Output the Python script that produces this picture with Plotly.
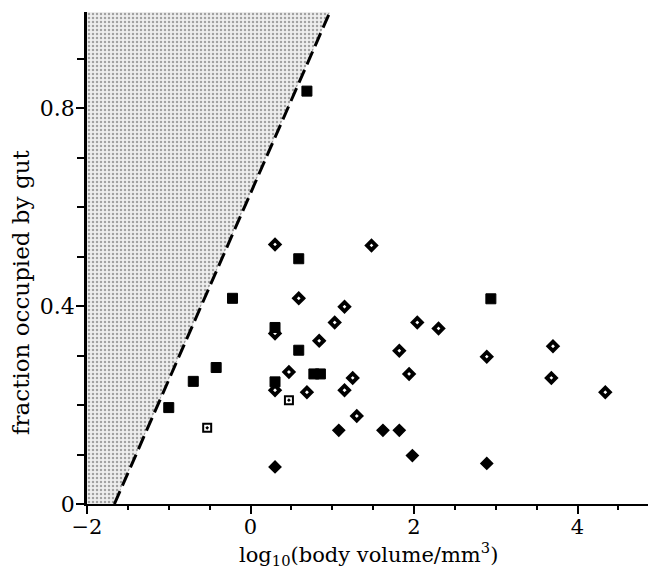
import plotly.graph_objects as go

# ---- data ----
sq_filled_x = [0.69, 0.59, -0.22, 0.30, 0.59, -0.42, -0.70, 0.775, 0.855, 0.30, -1.00, 2.94]
sq_filled_y = [0.835, 0.496, 0.416, 0.357, 0.311, 0.276, 0.248, 0.263, 0.263, 0.247, 0.195, 0.415]

sq_open_x = [-0.53, 0.47]
sq_open_y = [0.154, 0.210]

dia_open_x = [0.30, 1.48, 0.59, 1.15, 1.03, 2.04, 2.30, 0.30, 0.84, 1.82, 0.47,
              1.94, 1.25, 0.30, 0.69, 1.15, 1.30, 2.89, 3.70, 3.68, 4.34]
dia_open_y = [0.525, 0.523, 0.416, 0.399, 0.367, 0.367, 0.355, 0.345, 0.330, 0.310, 0.267,
              0.263, 0.255, 0.230, 0.226, 0.230, 0.178, 0.298, 0.319, 0.255, 0.226]

dia_filled_x = [1.08, 1.62, 1.82, 1.98, 0.30, 2.89]
dia_filled_y = [0.149, 0.149, 0.149, 0.098, 0.075, 0.082]

limit_x = [-1.665, 0.985]
limit_y = [0.0, 1.0]

x_range = [-2, 4.96]
y_range = [0, 0.995]
x_tickvals = [-2, 0, 2, 4]
x_ticktext = ["\u22122", "0", "2", "4"]
y_tickvals = [0, 0.4, 0.8]
y_ticktext = ["0", "0.4", "0.8"]

FONT = "DejaVu Serif"

fig = go.Figure()

# shaded (forbidden) region left of the limit line
fig.add_trace(go.Scatter(
    x=[x_range[0], limit_x[0], limit_x[1], x_range[0]],
    y=[limit_y[0], limit_y[0], limit_y[1], limit_y[1]],
    fill="toself", mode="none",
    fillpattern=dict(shape=".", fgcolor="#555555", bgcolor="#eeeeee", size=4, solidity=0.3),
    hoverinfo="skip", showlegend=False))

# dashed limit line
fig.add_trace(go.Scatter(
    x=limit_x, y=limit_y, mode="lines",
    line=dict(color="black", width=3, dash="14px,6px"),
    showlegend=False))

# open diamonds
fig.add_trace(go.Scatter(
    x=dia_open_x, y=dia_open_y, mode="markers",
    marker=dict(symbol="diamond", size=7, color="white", line=dict(color="black", width=3.8)),
    showlegend=False))

# filled diamonds
fig.add_trace(go.Scatter(
    x=dia_filled_x, y=dia_filled_y, mode="markers",
    marker=dict(symbol="diamond", size=9, color="black", line=dict(color="black", width=1.5)),
    showlegend=False))

# filled squares
fig.add_trace(go.Scatter(
    x=sq_filled_x, y=sq_filled_y, mode="markers",
    marker=dict(symbol="square", size=10, color="black", line=dict(color="black", width=1)),
    showlegend=False))

# open squares with dot
fig.add_trace(go.Scatter(
    x=sq_open_x, y=sq_open_y, mode="markers",
    marker=dict(symbol="square-open-dot", size=8, color="black", line=dict(color="black", width=2)),
    showlegend=False))

fig.update_layout(
    width=648, height=564,
    margin=dict(l=79, r=0, t=4, b=68, autoexpand=False),
    plot_bgcolor="white", paper_bgcolor="white",
    font=dict(family=FONT, color="black", size=22),
    xaxis=dict(
        range=x_range, showgrid=False, zeroline=False, automargin=False,
        showline=True, linecolor="black", linewidth=2,
        ticks="outside", ticklen=8, tickwidth=2, tickcolor="black",
        tickvals=x_tickvals, ticktext=x_ticktext,
        tickfont=dict(family=FONT, size=21), ticklabelstandoff=-5,
        minor=dict(dtick=0.5, tick0=0, ticks="outside", ticklen=4, tickwidth=2, tickcolor="black"),
    ),
    yaxis=dict(
        range=y_range, showgrid=False, zeroline=False, automargin=False,
        showline=True, linecolor="black", linewidth=2.5,
        ticks="outside", ticklen=8, tickwidth=2, tickcolor="black",
        tickvals=y_tickvals, ticktext=y_ticktext,
        tickfont=dict(family=FONT, size=22), ticklabelstandoff=-3,
        minor=dict(dtick=0.1, tick0=0, ticks="outside", ticklen=7, tickwidth=2, tickcolor="black"),
    ),
    annotations=[
        dict(text="log<sub>10</sub>(body volume/mm<sup>3</sup>)",
             xref="paper", yref="paper", x=0.494, y=-0.101,
             xanchor="center", yanchor="middle", showarrow=False,
             font=dict(family=FONT, size=21)),
        dict(text="fraction occupied by gut",
             xref="paper", yref="paper", x=-0.116, y=0.431, textangle=-90,
             xanchor="center", yanchor="middle", showarrow=False,
             font=dict(family=FONT, size=23)),
    ],
)

fig.write_html("out.html")
